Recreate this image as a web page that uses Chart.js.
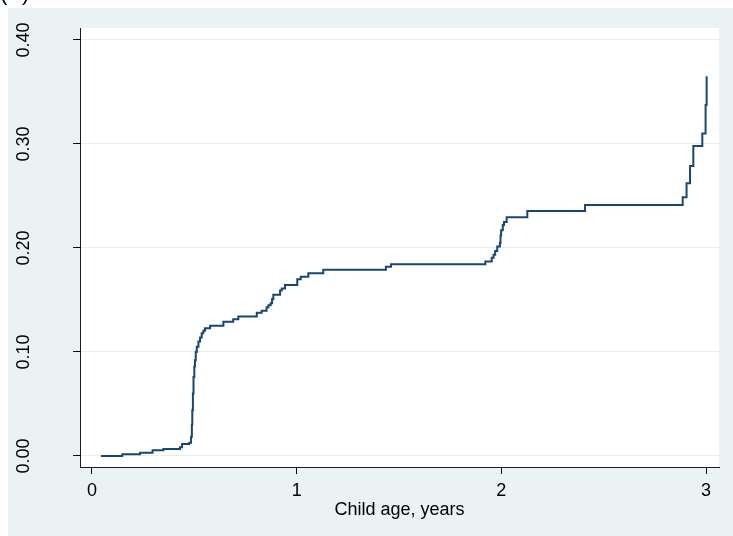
<!DOCTYPE html>
<html>
<head>
<meta charset="utf-8">
<script src="https://cdn.jsdelivr.net/npm/chart.js@4/dist/chart.umd.min.js"></script>
<style>
  html, body { margin: 0; padding: 0; background: #ffffff; overflow: hidden; }
  #wrap { position: absolute; left: 0; top: 0; width: 733px; height: 536px; }
</style>
</head>
<body>
<div id="wrap"><canvas id="chart" width="733" height="536"></canvas></div>
<script>
// Cumulative failure estimate by child age (step function)
const ageYears = [
  0.044, 0.148, 0.235, 0.296, 0.349, 0.430, 0.440, 0.475, 0.484, 0.488,
  0.490, 0.493, 0.496, 0.500, 0.503, 0.507, 0.512, 0.520, 0.528, 0.536,
  0.544, 0.552, 0.577, 0.642, 0.690, 0.715, 0.805, 0.829, 0.853, 0.862,
  0.873, 0.880, 0.886, 0.919, 0.927, 0.943, 1.003, 1.020, 1.057, 1.130,
  1.436, 1.461, 1.922, 1.953, 1.962, 1.970, 1.980, 1.993, 1.996, 1.999,
  2.007, 2.013, 2.026, 2.127, 2.409, 2.886, 2.905, 2.922, 2.938, 2.982,
  2.998, 3.003
];
const cumFailure = [
  0.0000, 0.0016, 0.0032, 0.0055, 0.0067, 0.0083, 0.0115, 0.0128, 0.0186, 0.0300,
  0.0440, 0.0600, 0.0760, 0.0860, 0.0920, 0.1000, 0.1050, 0.1100, 0.1140, 0.1180,
  0.1205, 0.1228, 0.1253, 0.1290, 0.1315, 0.1340, 0.1378, 0.1397, 0.1430, 0.1450,
  0.1468, 0.1510, 0.1550, 0.1590, 0.1610, 0.1644, 0.1700, 0.1724, 0.1756, 0.1790,
  0.1820, 0.1843, 0.1870, 0.1905, 0.1935, 0.1970, 0.2013, 0.2050, 0.2120, 0.2170,
  0.2220, 0.2250, 0.2295, 0.2356, 0.2413, 0.2487, 0.2622, 0.2788, 0.2980, 0.3100,
  0.3375, 0.3650
];
const xTicks = [0, 1, 2, 3];
const yTicks = [0, 0.1, 0.2, 0.3, 0.4];
const xTitle = 'Child age, years';
const panelLabel = '(A)';

const FONT = '"Liberation Sans", Arial, Helvetica, sans-serif';
const PAGE_BG = '#EAF2F3';
const GRID = '#E6EEF1';
const LINE = '#1A476F';

const backdrop = {
  id: 'backdrop',
  beforeDraw(chart) {
    const { ctx, chartArea: a, width, height } = chart;
    ctx.save();
    ctx.fillStyle = '#ffffff';
    ctx.fillRect(0, 0, width, height);
    ctx.fillStyle = PAGE_BG;
    ctx.fillRect(8, 8, width - 8, height - 8);
    ctx.fillStyle = '#ffffff';
    ctx.fillRect(a.left, a.top, a.right - a.left, a.bottom - a.top);
    ctx.fillStyle = '#000000';
    ctx.font = '22px ' + FONT;
    ctx.textAlign = 'left';
    ctx.textBaseline = 'alphabetic';
    ctx.fillText(panelLabel, 0, 0);
    ctx.restore();
  },
  afterDraw(chart) {
    // vertical tick labels on the y axis
    const { ctx } = chart;
    const y = chart.scales.y;
    ctx.save();
    ctx.fillStyle = '#000000';
    ctx.font = '18px ' + FONT;
    ctx.textAlign = 'center';
    ctx.textBaseline = 'middle';
    y.ticks.forEach(t => {
      const py = y.getPixelForValue(t.value);
      ctx.save();
      ctx.translate(24, py);
      ctx.rotate(-Math.PI / 2);
      ctx.fillText(t.value.toFixed(2), 0, 0);
      ctx.restore();
    });
    ctx.restore();
  }
};

new Chart(document.getElementById('chart'), {
  type: 'line',
  data: {
    datasets: [{
      data: ageYears.map((t, i) => ({ x: t, y: cumFailure[i] })),
      borderColor: LINE,
      borderWidth: 2,
      pointRadius: 0,
      stepped: 'before',
      fill: false
    }]
  },
  options: {
    responsive: false,
    devicePixelRatio: 1,
    animation: false,
    layout: { padding: { left: 0, top: 28, right: 14, bottom: 0 } },
    plugins: { legend: { display: false }, tooltip: { enabled: false } },
    scales: {
      x: {
        type: 'linear',
        min: -0.0586,
        max: 3.0635,
        afterBuildTicks: s => { s.ticks = xTicks.map(v => ({ value: v })); },
        afterFit: s => { s.height = 69; },
        grid: { drawOnChartArea: false, tickLength: 7, color: '#000000', tickColor: '#000000' },
        border: { display: true, color: '#1a1a1a', width: 1 },
        ticks: {
          autoSkip: false, maxRotation: 0, padding: 6, color: '#000000',
          font: { size: 18, family: FONT },
          callback: v => String(v)
        },
        title: {
          display: true, text: xTitle, color: '#000000',
          font: { size: 18, family: FONT },
          padding: { top: 0, bottom: 15 }
        }
      },
      y: {
        type: 'linear',
        min: -0.0106,
        max: 0.4115,
        afterBuildTicks: s => { s.ticks = yTicks.map(v => ({ value: v })); },
        afterFit: s => { s.width = 80; },
        grid: { color: GRID, lineWidth: 1, tickLength: 7, tickColor: '#000000' },
        border: { display: true, color: '#1a1a1a', width: 1 },
        ticks: { display: false }
      }
    }
  },
  plugins: [backdrop]
});
</script>
</body>
</html>
